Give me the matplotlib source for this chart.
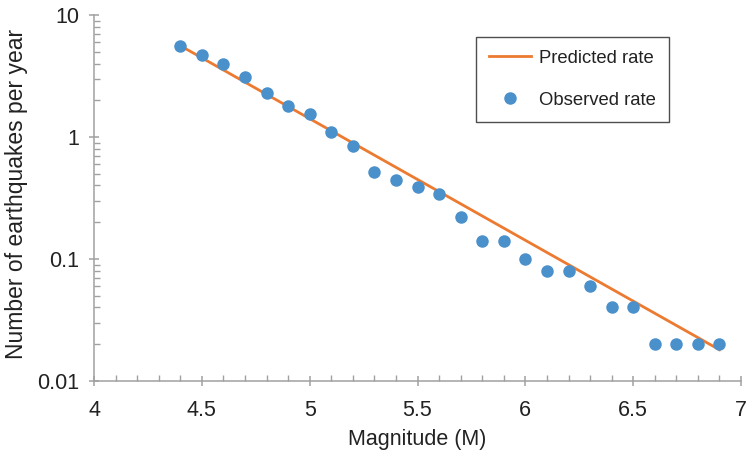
import matplotlib.pyplot as plt
from matplotlib.ticker import LogLocator, MultipleLocator, FixedLocator, NullFormatter

plt.rcParams['font.family'] = ['Liberation Sans', 'DejaVu Sans']

# observed rates
magnitude = [4.4, 4.5, 4.6, 4.7, 4.8, 4.9, 5.0, 5.1, 5.2, 5.3, 5.4, 5.5, 5.6,
             5.7, 5.8, 5.9, 6.0, 6.1, 6.2, 6.3, 6.4, 6.5, 6.6, 6.7, 6.8, 6.9]
observed = [5.6, 4.7, 4.0, 3.1, 2.3, 1.8, 1.55, 1.1, 0.84, 0.52, 0.44, 0.39, 0.34,
            0.22, 0.14, 0.14, 0.1, 0.08, 0.08, 0.06, 0.04, 0.04, 0.02, 0.02, 0.02, 0.02]

# predicted rate: straight line on log scale between its end points
pred_mag = [4.4, 6.9]
pred_rate = [5.6, 0.018]

xticks = [4, 4.5, 5, 5.5, 6, 6.5, 7]
xlabels = ['4', '4.5', '5', '5.5', '6', '6.5', '7']
yticks = [0.01, 0.1, 1, 10]
ylabels = ['0.01', '0.1', '1', '10']

orange = '#ec7a30'
blue = '#4a90cb'
gray = '#a0a0a0'
txt = '#222222'

fig = plt.figure(figsize=(7.48, 4.54), dpi=100)
ax = fig.add_axes([0.1257, 0.161, 0.865, 0.806])

ax.plot(pred_mag, pred_rate, color=orange, lw=2.0, label='Predicted rate', zorder=2)
ax.plot(magnitude, observed, 'o', color=blue, ms=9, mec='none', label='Observed rate', zorder=3)

ax.set_yscale('log')
ax.set_xlim(4, 7)
ax.set_ylim(0.01, 10)

ax.set_xticks(xticks)
ax.set_xticklabels(xlabels)
ax.xaxis.set_minor_locator(MultipleLocator(0.1))
ax.yaxis.set_major_locator(FixedLocator(yticks))
ax.set_yticklabels(ylabels)
ax.yaxis.set_minor_locator(LogLocator(base=10, subs=range(2, 10)))
ax.yaxis.set_minor_formatter(NullFormatter())

for s in ['top', 'right']:
    ax.spines[s].set_visible(False)
for s in ['left', 'bottom']:
    ax.spines[s].set_color(gray)
    ax.spines[s].set_linewidth(1.1)

ax.tick_params(which='major', direction='inout', length=7.5, width=1.1, color=gray,
               labelsize=15.5, labelcolor=txt)
ax.tick_params(which='minor', direction='in', length=4, width=1.0, color=gray)
ax.tick_params(axis='x', which='major', pad=10)
ax.tick_params(axis='y', which='major', pad=7)

ax.set_xlabel('Magnitude (M)', fontsize=15.5, color=txt, labelpad=6)
ax.set_ylabel('Number of earthquakes per year', fontsize=16.5, color=txt)
ax.yaxis.set_label_coords(-0.102, 0.511)

leg = ax.legend(loc='upper right', bbox_to_anchor=(0.889, 0.94), borderaxespad=0,
                fontsize=13.3, frameon=True, fancybox=False, handlelength=2.3,
                labelspacing=1.35, borderpad=0.7, handletextpad=0.45)
leg.get_frame().set_edgecolor(txt)
leg.get_frame().set_linewidth(1.0)
for t in leg.get_texts():
    t.set_color(txt)

fig.savefig('out.png', dpi=100)
